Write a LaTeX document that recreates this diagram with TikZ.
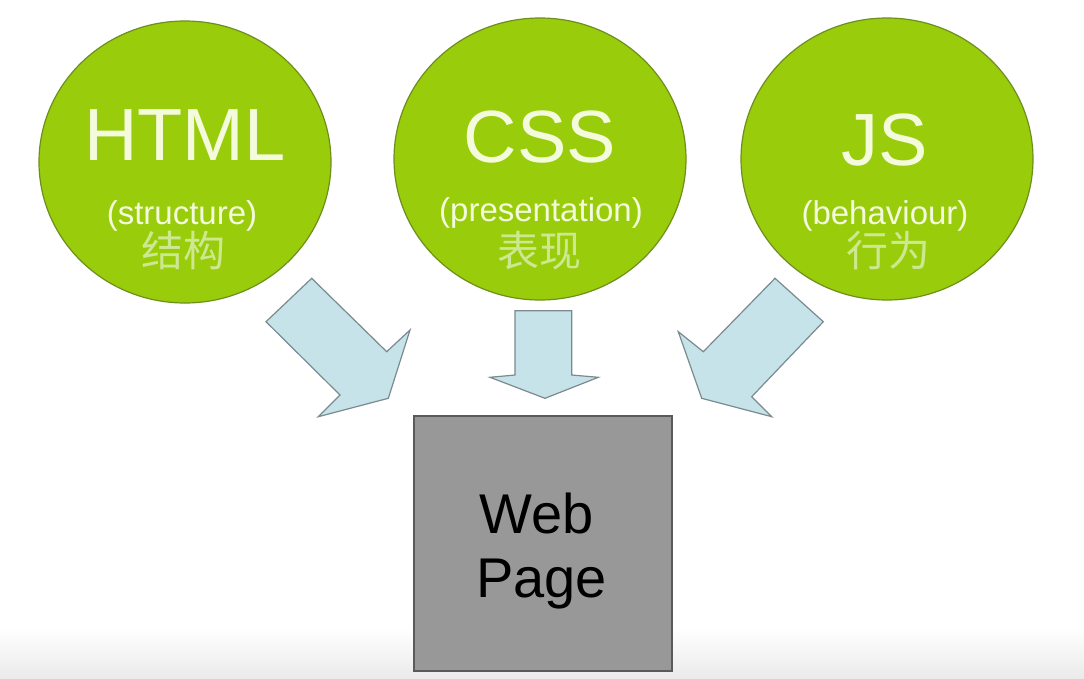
\documentclass[tikz,border=0pt]{standalone}
\usepackage{fontspec}
\setmainfont{Liberation Sans}
\newfontfamily\cjk{Noto Sans CJK SC}
\usetikzlibrary{shapes.geometric}
\definecolor{leaf}{HTML}{99CC0A}
\definecolor{leafedge}{HTML}{6E8F1E}
\definecolor{titletxt}{HTML}{F4FADC}
\definecolor{cntxt}{HTML}{CDE890}
\definecolor{arrfill}{HTML}{C6E3EA}
\definecolor{arredge}{HTML}{7A8A90}
\definecolor{pagefill}{HTML}{989898}
\definecolor{pageedge}{HTML}{5A5A5A}
\begin{document}
\begin{tikzpicture}[x=1pt,y=-1pt,
  techcircle/.style={ellipse, draw=leafedge, line width=1.2pt, fill=leaf,
    minimum width=292pt, minimum height=282pt, inner sep=0pt},
  bigtitle/.style={anchor=base, text=titletxt, inner sep=0pt,
    font=\fontsize{74}{74}\selectfont},
  subtitle/.style={anchor=base, text=titletxt, inner sep=0pt,
    font=\fontsize{33}{33}\selectfont},
  cntitle/.style={anchor=base, text=cntxt, inner sep=0pt,
    font=\cjk\fontsize{42}{42}\selectfont},
  blockarrow/.style={draw=arredge, line width=1.2pt, fill=arrfill, line join=miter},
  pagebox/.style={rectangle, draw=pageedge, line width=2.8pt, fill=pagefill,
    minimum width=258pt, minimum height=255pt, inner sep=0pt},
  pagetext/.style={anchor=base west, text=black, inner sep=0pt,
    font=\fontsize{56}{56}\selectfont}
]
\useasboundingbox (0,0) rectangle (1084,678);
\fill[white] (0,0) rectangle (1084,678);
\shade[top color=white, bottom color=black!8] (0,628) rectangle (1084,678);

% circles
\node[techcircle] (html) at (185,162) {};
\node[techcircle] (css) at (540,159) {};
\node[techcircle] (js) at (887,159) {};

\node[bigtitle] (htmlt) at (185,160) {HTML};
\node[subtitle] (htmls) at (182,224) {(structure)};
\node[cntitle] (htmlc) at (183,266) {结构};

\node[bigtitle] (csst) at (540,162) {CSS};
\node[subtitle] (csss) at (541,221) {(presentation)};
\node[cntitle] (cssc) at (539,266) {表现};

\node[bigtitle] (jst) at (885,165) {JS};
\node[subtitle] (jss) at (885,224) {(behaviour)};
\node[cntitle] (jsc) at (888,266) {行为};

% web page box
\node[pagebox] (web) at (543,543.5) {};
\node[pagetext] (webt1) at (479,533) {Web};
\node[pagetext] (webt2) at (476,597) {Page};

% block arrows
\draw[blockarrow] (311.7,278.3) -- (386.7,351.7) -- (410,330) -- (388.3,398.3)
  -- (318.3,416.7) -- (340,395) -- (266,321.7) -- cycle;
\draw[blockarrow] (515,310.7) -- (571.7,310.7) -- (571.7,375) -- (598.3,377.3)
  -- (545,398.3) -- (490,377.3) -- (515,375) -- cycle;
\draw[blockarrow] (775,278.3) -- (823.3,321.7) -- (751.7,396.7) -- (771.7,416.7)
  -- (701.7,398.3) -- (678.3,331.7) -- (703.3,351.7) -- cycle;
\end{tikzpicture}
\end{document}
